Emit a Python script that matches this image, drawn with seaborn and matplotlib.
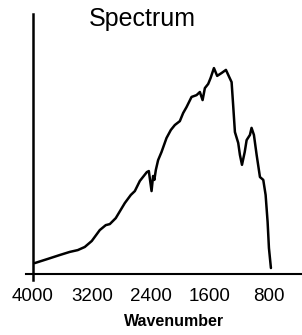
import pandas as pd
import matplotlib
matplotlib.use("Agg")
import matplotlib.pyplot as plt
import seaborn as sns

# wavenumber (cm-1) and relative intensity
wavenumber = [3977, 3800, 3637, 3501, 3392, 3297, 3202, 3093, 3012, 2957,
              2876, 2753, 2672, 2617, 2549, 2454, 2427, 2390, 2369, 2352,
              2332, 2301, 2255, 2187, 2128, 2074, 2006, 1961, 1915, 1847,
              1779, 1734, 1697, 1666, 1621, 1588, 1543, 1499, 1439, 1380,
              1336, 1303, 1282, 1258, 1213, 1190, 1162, 1125, 1099, 1054,
              1032, 1000, 963, 918, 873, 841, 814, 796, 769]
intensity = [4.2, 5.8, 7.3, 8.5, 9.2, 10.4, 12.7, 16.9, 18.8, 19.2,
             21.5, 27.3, 30.4, 31.9, 35.8, 39.2, 39.6, 31.9, 37.7, 36.2,
             40.0, 43.8, 46.9, 52.3, 55.4, 57.3, 58.8, 61.9, 64.2, 68.1,
             68.8, 70.0, 66.9, 71.5, 73.1, 75.4, 79.2, 76.2, 77.3, 78.5,
             75.8, 73.8, 65.0, 54.6, 50.4, 45.8, 42.0, 46.9, 51.5, 53.5,
             56.2, 53.5, 45.8, 37.3, 36.2, 30.4, 20.0, 10.0, 2.3]
tick_values = [4000, 3200, 2400, 1600, 800]
tick_labels = ["4000", "3200", "2400", "1600", "800"]

df = pd.DataFrame({"wavenumber": wavenumber, "intensity": intensity})

sns.set_style("white")
plt.rcParams["font.family"] = ["Liberation Sans", "DejaVu Sans"]
plt.rcParams["text.color"] = "black"

fig = plt.figure(figsize=(3.02, 3.35), dpi=100)
ax = fig.add_axes([26 / 302, 55 / 335, 276 / 302, 266 / 335])

sns.lineplot(data=df, x="wavenumber", y="intensity", color="black",
             linewidth=1.8, ax=ax, sort=False)

ax.set_xlim(4095, 347)
ax.set_ylim(-2.3, 100)

ax.spines["top"].set_visible(False)
ax.spines["right"].set_visible(False)
ax.spines["left"].set_position(("data", 4000))
ax.spines["bottom"].set_position(("data", 0))
ax.spines["left"].set_linewidth(1.8)
ax.spines["bottom"].set_linewidth(1.5)
ax.spines["left"].set_color("black")
ax.spines["bottom"].set_color("black")

ax.set_xticks(tick_values)
ax.set_xticklabels(tick_labels, fontsize=13.5)
ax.set_yticks([])
ax.tick_params(axis="x", direction="in", length=4, width=1.2, pad=10,
               colors="black", labelcolor="black")
ax.set_xlabel("")
ax.set_ylabel("")

fig.text(142 / 302, 1 - 19 / 335, "Spectrum", ha="center", va="center",
         fontsize=18, color="black")
fig.text(174 / 302, 1 - 322 / 335, "Wavenumber", ha="center", va="center",
         fontsize=11.5, fontweight="bold", color="black")

fig.savefig("out.png", dpi=100)
